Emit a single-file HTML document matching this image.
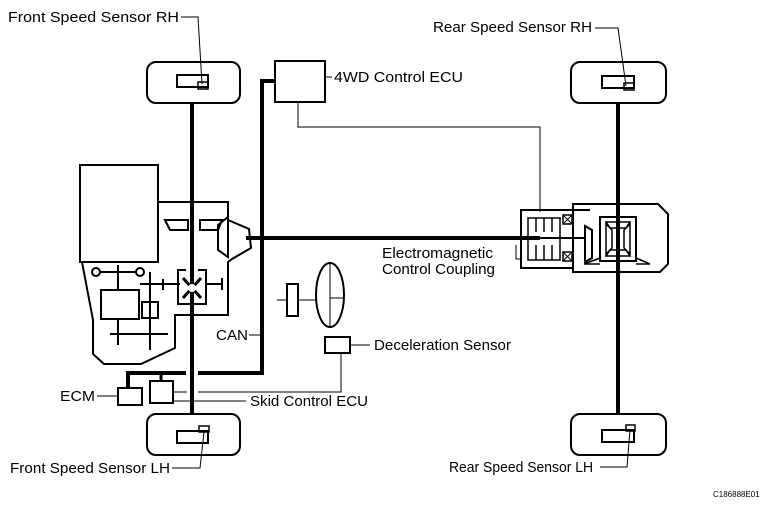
<!DOCTYPE html>
<html><head><meta charset="utf-8"><style>
html,body{margin:0;padding:0;background:#fff;}
svg{display:block;}
text{font-family:"Liberation Sans",Arial,sans-serif;font-size:14.5px;fill:#000;}
</style></head><body>
<svg width="767" height="508" viewBox="0 0 767 508" xmlns="http://www.w3.org/2000/svg">
<g fill="none" stroke="#000" stroke-width="2">
<line x1="192" y1="103" x2="192" y2="414" stroke-width="4"/>
<line x1="618" y1="103" x2="618" y2="414" stroke-width="4"/>
<rect x="147" y="62" width="93" height="41" rx="9" fill="#fff"/>
<rect x="147" y="414" width="93" height="41" rx="9" fill="#fff"/>
<rect x="571" y="62" width="95" height="41" rx="9" fill="#fff"/>
<rect x="571" y="414" width="95" height="41" rx="9" fill="#fff"/>
<rect x="177" y="75" width="31" height="12"/><rect x="198" y="82" width="10" height="7" stroke-width="1.5"/>
<rect x="177" y="431" width="31" height="12"/><rect x="199" y="426" width="10" height="6" stroke-width="1.5"/>
<rect x="602" y="76" width="32" height="12"/><rect x="624" y="83" width="10" height="7" stroke-width="1.5"/>
<rect x="602" y="430" width="32" height="12"/><rect x="626" y="425" width="9" height="6" stroke-width="1.5"/>
</g>
<g fill="none" stroke="#000" stroke-width="1">
<polyline points="181,17 198,17 202,84"/>
<polyline points="172,468 200,468 204,432"/>
<polyline points="595,28 618,28 626,86"/>
<polyline points="600,467 627,467 630,430"/>
<polyline points="325,77 332,77"/>
<polyline points="298,102 298,127 540,127 540,212"/>
<polyline points="516,245 516,259 521,259"/>
<polyline points="249,335 262,335"/>
<polyline points="350,345 370,345"/>
<polyline points="341,353 341,392 198,392"/>
<polyline points="173,392 187,392"/>
<polyline points="173,401 246,401"/>
<polyline points="97,396 118,396"/>
</g>
<g fill="none" stroke="#000">
<rect x="275" y="61" width="50" height="41" stroke-width="2"/>
<polyline points="275,81 262,81 262,373 198,373" stroke-width="4"/>
<polyline points="186,373 128,373 128,388" stroke-width="4"/>
<line x1="161" y1="373" x2="161" y2="381" stroke-width="3"/>
<rect x="118" y="388" width="24" height="17" stroke-width="2"/>
<rect x="150" y="381" width="23" height="22" stroke-width="2"/>
<rect x="325" y="337" width="25" height="16" stroke-width="2"/>
<line x1="246" y1="238" x2="540" y2="238" stroke-width="4"/>
<rect x="80" y="165" width="78" height="97" stroke-width="2"/>
<polyline points="158,202 228,202 228,220 249,229 251,248 232,259 228,262 228,315 175,315 175,348 141,364 104,364 93,354 93,320 82,262" stroke-width="2"/>
<polygon points="165,220 188,220 188,230 170,230" stroke-width="2"/>
<polygon points="200,220 222,220 218,230 200,230" stroke-width="2"/>
<polygon points="218,225 228,217 228,257 218,250" stroke-width="2"/>
<line x1="96" y1="272" x2="140" y2="272" stroke-width="2"/>
<circle cx="96" cy="272" r="4" fill="#fff" stroke-width="2"/>
<circle cx="140" cy="272" r="4" fill="#fff" stroke-width="2"/>
<line x1="118" y1="265" x2="118" y2="290" stroke-width="2"/>
<rect x="101" y="290" width="38" height="29" stroke-width="2"/>
<line x1="118" y1="319" x2="118" y2="345" stroke-width="2"/>
<line x1="110" y1="334" x2="168" y2="334" stroke-width="2"/>
<line x1="150" y1="272" x2="150" y2="350" stroke-width="2"/>
<rect x="142" y="302" width="16" height="16" stroke-width="2"/>
<line x1="140" y1="284" x2="180" y2="284" stroke-width="2"/>
<line x1="163" y1="279" x2="163" y2="290" stroke-width="2"/>
<line x1="205" y1="284" x2="222" y2="284" stroke-width="2"/>
<line x1="222" y1="278" x2="222" y2="290" stroke-width="2"/>
<polyline points="186,270 178,270 178,304 206,304 206,270 198,270" stroke-width="2"/>
<path d="M183,278 L201,298 M201,278 L183,298" stroke-width="3"/>
<circle cx="192" cy="288" r="4" fill="#fff" stroke="none"/>
<line x1="277" y1="300" x2="330" y2="300" stroke-width="1"/>
<rect x="287" y="284" width="11" height="32" fill="#fff" stroke-width="2"/>
<ellipse cx="330" cy="295" rx="14" ry="32" fill="#fff" stroke-width="2"/>
<line x1="330" y1="263" x2="330" y2="327" stroke-width="1"/>
<line x1="330" y1="298" x2="343" y2="298" stroke-width="1"/>
<polyline points="590,210 573,210 573,204 658,204 668,214 668,264 660,272 573,272 573,268" stroke-width="2"/>
<rect x="521" y="210" width="52" height="58" stroke-width="2"/>
<rect x="528" y="218" width="32" height="42" stroke-width="1.5"/>
<line x1="536" y1="218" x2="536" y2="232" stroke-width="1.5"/>
<line x1="544" y1="218" x2="544" y2="232" stroke-width="1.5"/>
<line x1="552" y1="218" x2="552" y2="232" stroke-width="1.5"/>
<line x1="536" y1="245" x2="536" y2="260" stroke-width="1.5"/>
<line x1="544" y1="245" x2="544" y2="260" stroke-width="1.5"/>
<line x1="552" y1="245" x2="552" y2="260" stroke-width="1.5"/>
<line x1="540" y1="238" x2="585" y2="238" stroke-width="2"/>
<rect x="563" y="215" width="9" height="9" stroke-width="1.5"/>
<path d="M563,215 L572,224 M572,215 L563,224" stroke-width="1"/>
<rect x="563" y="252" width="9" height="9" stroke-width="1.5"/>
<path d="M563,252 L572,261 M572,252 L563,261" stroke-width="1"/>
<polygon points="585,226 592,230 592,258 585,262" stroke-width="2"/>
<rect x="600" y="217" width="36" height="44" stroke-width="2"/>
<polygon points="606,222 630,222 626,228 610,228" stroke-width="1.5"/>
<polygon points="606,256 630,256 626,250 610,250" stroke-width="1.5"/>
<polygon points="606,224 612,230 612,248 606,254" stroke-width="1.5"/>
<polygon points="630,224 624,230 624,248 630,254" stroke-width="1.5"/>
<polyline points="584,264 600,258" stroke-width="1.5"/>
<polyline points="636,258 650,264" stroke-width="1.5"/>
<line x1="584" y1="264" x2="600" y2="264" stroke-width="1.5"/>
<line x1="636" y1="264" x2="650" y2="264" stroke-width="1.5"/>
</g>
<text x="8" y="22" textLength="171" lengthAdjust="spacingAndGlyphs">Front Speed Sensor RH</text>
<text x="433" y="32" textLength="159" lengthAdjust="spacingAndGlyphs">Rear Speed Sensor RH</text>
<text x="334" y="82" textLength="129" lengthAdjust="spacingAndGlyphs">4WD Control ECU</text>
<text x="382" y="258" textLength="111" lengthAdjust="spacingAndGlyphs">Electromagnetic</text>
<text x="382" y="274" textLength="113" lengthAdjust="spacingAndGlyphs">Control Coupling</text>
<text x="216" y="340" textLength="32" lengthAdjust="spacingAndGlyphs">CAN</text>
<text x="374" y="350" textLength="137" lengthAdjust="spacingAndGlyphs">Deceleration Sensor</text>
<text x="60" y="401" textLength="35" lengthAdjust="spacingAndGlyphs">ECM</text>
<text x="250" y="406" textLength="118" lengthAdjust="spacingAndGlyphs">Skid Control ECU</text>
<text x="10" y="473" textLength="160" lengthAdjust="spacingAndGlyphs">Front Speed Sensor LH</text>
<text x="449" y="472" textLength="144" lengthAdjust="spacingAndGlyphs">Rear Speed Sensor LH</text>
<text x="713" y="497" style="font-size:8px">C186888E01</text>
</svg>
</body></html>
